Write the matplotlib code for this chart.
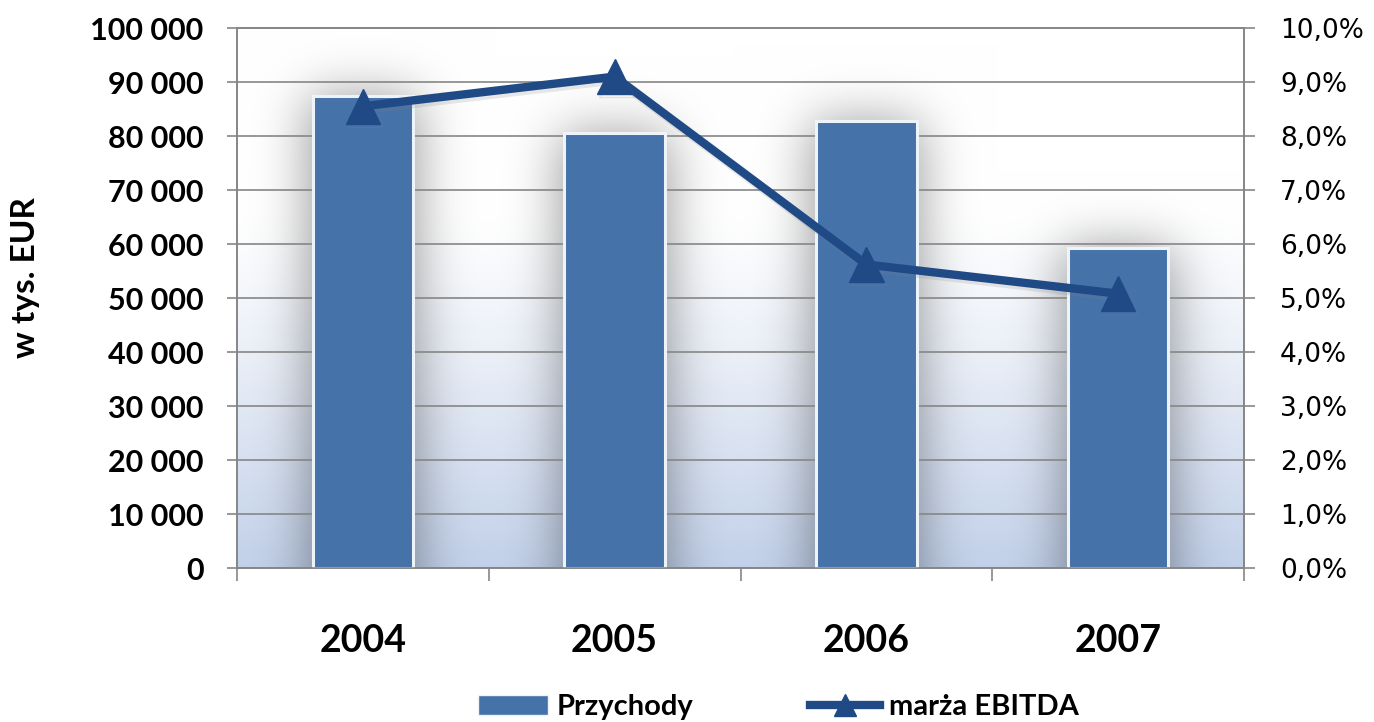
import numpy as np
import matplotlib
matplotlib.use("Agg")
import matplotlib.pyplot as plt
import matplotlib.patheffects as pe
from matplotlib.ticker import FuncFormatter, FixedLocator
from matplotlib.lines import Line2D
from matplotlib.patches import Patch

# ---- data ----
years = ["2004", "2005", "2006", "2007"]
przychody = [87400, 80500, 82700, 59300]          # w tys. EUR
marza_ebitda = [0.0855, 0.0910, 0.0562, 0.0508]   # marża EBITDA
y_left_ticks = [0, 10000, 20000, 30000, 40000, 50000, 60000, 70000, 80000, 90000, 100000]
y_right_ticks = [0.0, 0.01, 0.02, 0.03, 0.04, 0.05, 0.06, 0.07, 0.08, 0.09, 0.10]

bar_color = "#4572a9"
line_color = "#1f4a86"
grid_color = "#868686"
BOLD = ["Lato", "DejaVu Sans"]

W, H = 1374, 722
fig = plt.figure(figsize=(W / 100, H / 100), dpi=100)
fig.patch.set_facecolor("white")
x0, x1, yb, yt = 237, 1244, 568, 28
ax = fig.add_axes([x0 / W, 1 - yb / H, (x1 - x0) / W, (yb - yt) / H])

n = len(years)
xs = np.arange(n)
bw = 0.4
ymax = 100000

# ---- background: vertical gradient + soft glow shadow around bars ----
pw, ph = x1 - x0, yb - yt
gx = np.linspace(-0.5, n - 0.5, pw)
gy = np.linspace(ymax, 0, ph)
t = gy / ymax
f = np.clip((0.66 - t) / 0.66, 0, 1) ** 1.2
top = np.array([1.0, 1.0, 1.0])
bot = np.array([0.760, 0.818, 0.915])
img = top[None, None, :] * (1 - f[:, None, None]) + bot[None, None, :] * f[:, None, None]
img = np.repeat(img, pw, axis=1)

mask = np.zeros((ph, pw))
for xi, v in zip(xs, przychody):
    mx = (gx >= xi - bw / 2 - 0.015) & (gx <= xi + bw / 2 + 0.015)
    my = gy <= v
    mask[np.ix_(my, mx)] = 1.0

def gblur(a, sigma):
    r = int(3 * sigma)
    k = np.exp(-0.5 * (np.arange(-r, r + 1) / sigma) ** 2)
    k /= k.sum()
    pad = np.pad(a, ((r, r), (r, r)), mode="edge")
    tmp = np.apply_along_axis(lambda m: np.convolve(m, k, mode="valid"), 1, pad)
    out = np.apply_along_axis(lambda m: np.convolve(m, k, mode="valid"), 0, tmp)
    return out

sh = gblur(mask, 26)
shade = 1 - 0.40 * sh
img = img * shade[:, :, None]
ax.imshow(img, extent=(-0.5, n - 0.5, 0, ymax), aspect="auto", zorder=0,
          interpolation="bilinear")

# gridlines
for v in y_left_ticks:
    ax.axhline(v, color=grid_color, lw=1.2, zorder=1)

# bars
ax.bar(xs, przychody, width=bw, color=bar_color, edgecolor="#eef3fa",
       linewidth=2.2, zorder=3)

ax.set_xlim(-0.5, n - 0.5)
ax.set_ylim(0, ymax)
ax.yaxis.set_major_locator(FixedLocator(y_left_ticks))
ax.yaxis.set_major_formatter(FuncFormatter(lambda v, p: f"{int(v):,}".replace(",", " ")))
ax.set_xticks(xs)
ax.set_xticklabels(years)
ax.set_xticks(np.arange(-0.5, n, 1.0), minor=True)
ax.tick_params(axis="x", which="major", length=0, pad=40)
ax.tick_params(axis="x", which="minor", length=9, width=1.2, color=grid_color)
ax.tick_params(axis="y", length=7, width=1.2, color=grid_color, pad=17)
for lab in ax.get_xticklabels():
    lab.set_fontfamily(BOLD)
    lab.set_fontweight("bold")
    lab.set_fontsize(27)
for lab in ax.get_yticklabels():
    lab.set_fontfamily(BOLD)
    lab.set_fontweight("bold")
    lab.set_fontsize(22)
for s in ax.spines.values():
    s.set_color(grid_color)
    s.set_linewidth(1.2)

fig.text(26 / W, 1 - 278 / H, "w tys. EUR", rotation=90, ha="center", va="center",
         fontsize=24, fontweight="bold", family=BOLD)

# ---- secondary axis: marża EBITDA ----
ax2 = ax.twinx()
ax2.set_ylim(0, 0.10)
ax2.yaxis.set_major_locator(FixedLocator(y_right_ticks))
ax2.yaxis.set_major_formatter(FuncFormatter(lambda v, p: f"{v * 100:.1f}%".replace(".", ",")))
ax2.tick_params(axis="y", length=8, width=1.2, color=grid_color, pad=18, labelsize=19)
for s in ax2.spines.values():
    s.set_color(grid_color)
    s.set_linewidth(1.2)
ax2.plot(xs, marza_ebitda, color=line_color, lw=6, marker="^", markersize=25,
         markeredgecolor=line_color, zorder=5, solid_joinstyle="miter",
         path_effects=[pe.SimpleLineShadow(offset=(1.5, -2.5), shadow_color="0.5", alpha=0.18),
                       pe.Normal()])

# ---- legend ----
handles = [Patch(facecolor=bar_color, edgecolor="#eef3fa"),
           Line2D([0], [0], color=line_color, lw=6, marker="^", markersize=16)]
leg = fig.legend(handles, ["Przychody", "marża EBITDA"], loc="center",
                 bbox_to_anchor=(778 / W, 1 - 707 / H), ncol=2, frameon=False,
                 prop={"family": BOLD, "weight": "bold", "size": 21},
                 handlelength=2.4, handleheight=0.7, handletextpad=0.3,
                 columnspacing=4.0)

fig.savefig("out.png", dpi=100)
